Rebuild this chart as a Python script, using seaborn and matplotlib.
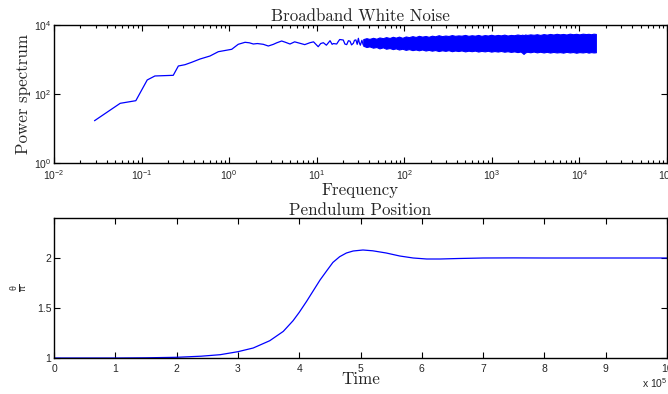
import numpy as np
import pandas as pd
import matplotlib
matplotlib.use("Agg")
import matplotlib.pyplot as plt
import seaborn as sns
from matplotlib.ticker import LogLocator, FixedLocator, NullLocator, NullFormatter, FormatStrFormatter

# ---------------- data: broadband white noise power spectrum ----------------
freq_line = [0.029, 0.057, 0.086, 0.116, 0.142, 0.230, 0.263, 0.313, 0.373, 0.465,
             0.604, 0.752, 1.07, 1.27, 1.52, 1.70, 1.89, 2.10, 2.45, 2.80,
             3.20, 3.50, 3.98, 4.40, 4.95, 5.60, 6.44, 7.30, 8.38, 9.20,
             10.4, 11.1, 11.9, 12.9, 14.2, 15.0, 15.5, 16.9, 17.6, 18.3,
             20.1, 21.0, 22.0, 23.0, 24.0, 25.0, 26.2, 27.0, 28.0, 29.0,
             29.9, 30.7, 31.5, 32.8, 34.0]
power_line = [16.8, 53.7, 64.0, 255, 333, 348, 648, 707, 829, 1033,
              1262, 1683, 1976, 2758, 3152, 3050, 2812, 2900, 2758, 2462,
              2750, 3050, 3436, 3150, 2812, 3250, 2949, 2700, 3069, 3250,
              2350, 2900, 3069, 2600, 3508, 2750, 2900, 2812, 3300, 3800,
              3674, 2800, 2700, 3500, 3400, 2650, 2949, 3600, 3700, 2750,
              4115, 3000, 2600, 3600, 2630]

freq_band = [34, 37, 40, 44, 48, 52, 57, 62, 68, 74,
             80, 87, 95, 104, 113, 124, 135, 147, 160, 175,
             190, 207, 225, 247, 270, 295, 320, 350, 380, 415,
             450, 495, 540, 590, 640, 700, 760, 830, 900, 985,
             1070, 1170, 1270, 1390, 1510, 1650, 1800, 1960, 2130, 2230,
             2300, 2400, 2530, 2750, 3000, 3270, 3570, 3900, 4240, 4620,
             5040, 5500, 5990, 6530, 7110, 7750, 8450, 9200, 10000, 10900,
             11900, 12700, 13600, 14500, 15400]
band_upper = [3900, 4150, 3950, 4250, 4000, 4350, 4150, 4450, 4200, 4550,
              4300, 4600, 4250, 4650, 4450, 4750, 4500, 4850, 4600, 4800,
              4550, 4900, 4700, 5050, 4750, 4950, 4800, 5100, 4850, 5000,
              4900, 5150, 4850, 5050, 4900, 5150, 4850, 5100, 4950, 5200,
              4950, 5150, 5000, 5250, 4950, 5150, 5050, 5300, 5100, 5250,
              5050, 5300, 5150, 5350, 5200, 5400, 5150, 5450, 5250, 5500,
              5300, 5550, 5350, 5500, 5300, 5600, 5400, 5550, 5350, 5600,
              5450, 5550, 5400, 5600, 5500]
band_lower = [2500, 2300, 2400, 2200, 2300, 2100, 2250, 2050, 2150, 2000,
              2100, 1950, 2050, 1900, 2000, 1870, 1950, 1850, 1950, 1820,
              1900, 1800, 1880, 1760, 1850, 1780, 1860, 1740, 1820, 1760,
              1830, 1720, 1800, 1740, 1810, 1700, 1780, 1720, 1790, 1690,
              1760, 1700, 1770, 1680, 1740, 1660, 1720, 1640, 1700, 1560,
              1450, 1600, 1680, 1620, 1700, 1610, 1680, 1600, 1670, 1590,
              1660, 1600, 1640, 1580, 1670, 1600, 1650, 1570, 1640, 1600,
              1660, 1580, 1640, 1600, 1620]

# ---------------- data: pendulum position ----------------
time_x1e5 = [0, 0.5, 1.0, 1.5, 2.0, 2.4, 2.71, 3.0, 3.25, 3.52,
             3.74, 3.90, 4.0, 4.12, 4.23, 4.34, 4.45, 4.55, 4.66, 4.77,
             4.88, 5.04, 5.2, 5.42, 5.64, 5.86, 6.08, 6.3, 6.6, 7.0,
             7.5, 8.0, 9.0, 10.0]
theta_over_pi = [1.0, 1.0, 1.0, 1.002, 1.007, 1.018, 1.033, 1.063, 1.10, 1.173,
                 1.266, 1.373, 1.456, 1.566, 1.673, 1.78, 1.873, 1.956, 2.013, 2.05,
                 2.07, 2.08, 2.072, 2.05, 2.02, 2.0, 1.99, 1.99, 1.995, 2.0,
                 2.001, 2.0, 2.0, 2.0]

x_ticks_top = [1e-2, 1e-1, 1e0, 1e1, 1e2, 1e3, 1e4, 1e5]
y_ticks_top = [1, 100, 10000]
x_ticks_bottom = [0, 1, 2, 3, 4, 5, 6, 7, 8, 9, 10]
y_ticks_bottom = [1, 1.5, 2]

# ---------------- style ----------------
sns.set_style("ticks")
plt.rcParams["font.family"] = ["Liberation Sans", "DejaVu Sans"]
plt.rcParams["mathtext.default"] = "regular"
plt.rcParams["axes.linewidth"] = 1.0
plt.rcParams["axes.edgecolor"] = "black"

SERIF = ["cmr10", "DejaVu Serif"]
BLUE = (0, 0, 1)
TICK_FS = 7.5
LABEL_FS = 12.2

fig = plt.figure(figsize=(6.68, 3.94), dpi=100)
W, H = 668, 394
ax1 = fig.add_axes([54 / W, 1 - 163 / H, 613 / W, 138 / H])
ax2 = fig.add_axes([54 / W, 1 - 358 / H, 613 / W, 140 / H])

# ---- top panel ----
df_line = pd.DataFrame({"f": freq_line, "p": power_line})
sns.lineplot(data=df_line, x="f", y="p", ax=ax1, color=BLUE, lw=0.9,
             sort=False, estimator=None)
ax1.fill_between(freq_band, band_lower, band_upper, color=BLUE, lw=0.8,
                 edgecolor=BLUE)
ax1.set_xscale("log")
ax1.set_yscale("log")
ax1.set_xlim(1e-2, 1e5)
ax1.set_ylim(1, 1e4)
ax1.xaxis.set_major_locator(FixedLocator(x_ticks_top))
ax1.xaxis.set_minor_locator(LogLocator(base=10, subs=np.arange(2, 10), numticks=20))
ax1.xaxis.set_minor_formatter(NullFormatter())
ax1.yaxis.set_major_locator(FixedLocator(y_ticks_top))
ax1.yaxis.set_minor_locator(NullLocator())
ax1.set_title("Broadband White Noise", fontfamily=SERIF, fontsize=LABEL_FS, pad=3)
ax1.set_xlabel("Frequency", fontfamily=SERIF, fontsize=LABEL_FS, labelpad=0)
ax1.set_ylabel("Power spectrum", fontfamily=SERIF, fontsize=LABEL_FS, labelpad=2)

# ---- bottom panel ----
df_p = pd.DataFrame({"t": time_x1e5, "theta": theta_over_pi})
sns.lineplot(data=df_p, x="t", y="theta", ax=ax2, color=BLUE, lw=0.9,
             sort=False, estimator=None)
ax2.set_xlim(0, 10)
ax2.set_ylim(1, 2.4)
ax2.xaxis.set_major_locator(FixedLocator(x_ticks_bottom))
ax2.yaxis.set_major_locator(FixedLocator(y_ticks_bottom))
ax2.xaxis.set_major_formatter(FormatStrFormatter("%g"))
ax2.yaxis.set_major_formatter(FormatStrFormatter("%g"))
ax2.set_title("Pendulum Position", fontfamily=SERIF, fontsize=LABEL_FS, pad=2)
ax2.set_xlabel("Time", fontfamily=SERIF, fontsize=LABEL_FS, labelpad=-1)
ax2.set_ylabel(r"$\frac{\theta}{\pi}$", fontsize=9, math_fontfamily="cm", labelpad=5)
ax2.text(1.0, -0.18, r"x $\mathdefault{10^{5}}$", transform=ax2.transAxes,
         ha="right", va="center", fontsize=TICK_FS)

for ax in (ax1, ax2):
    ax.tick_params(which="both", direction="in", top=True, right=True,
                   labelsize=TICK_FS, width=0.8, color="black")
    ax.tick_params(which="major", length=4)
    ax.tick_params(which="minor", length=2)
    ax.tick_params(axis="x", pad=4)
    ax.tick_params(axis="y", pad=2)
    for s in ax.spines.values():
        s.set_visible(True)
        s.set_color("black")

fig.savefig("out.png", dpi=100)
